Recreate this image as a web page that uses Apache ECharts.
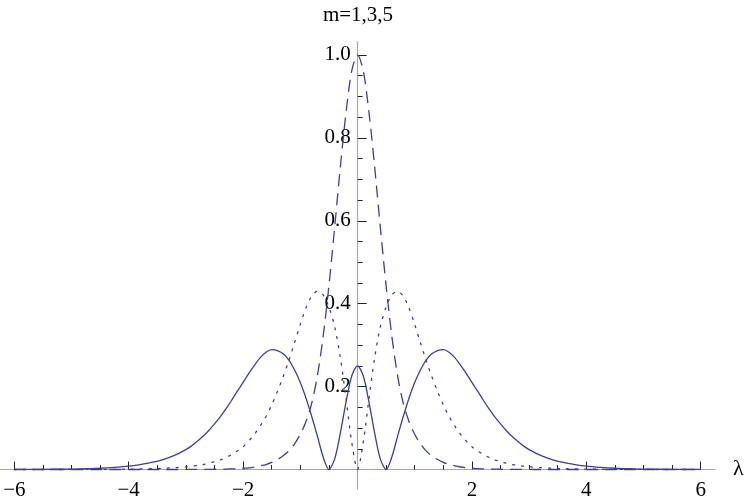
<!DOCTYPE html>
<html>
<head>
<meta charset="utf-8">
<script src="https://cdn.jsdelivr.net/npm/echarts@6/dist/echarts.min.js"></script>
<style>
  html, body { margin: 0; padding: 0; background: #fff; }
  #chart { width: 747px; height: 503px; }
</style>
</head>
<body>
<div id="chart"></div>
<script>
// lambda grid (-6 .. 6)
const lambda = [-6,-5.5,-5,-4.75,-4.5,-4.25,-4,-3.8,-3.6,-3.4,-3.2,-3,-2.9,-2.8,-2.7,-2.6,-2.5,-2.4,-2.3,-2.2,-2.1,-2,-1.9,-1.8,-1.7,-1.6,-1.5,-1.4,-1.3,-1.2,-1.1,-1,-0.9,-0.8,-0.7,-0.6,-0.5,-0.4,-0.3,-0.2,-0.1,
  0,
  0.1,0.2,0.3,0.4,0.5,0.6,0.7,0.8,0.9,1,1.1,1.2,1.3,1.4,1.5,1.6,1.7,1.8,1.9,2,2.1,2.2,2.3,2.4,2.5,2.6,2.7,2.8,2.9,3,3.2,3.4,3.6,3.8,4,4.25,4.5,4.75,5,5.5,6];

// dashed curve (single peak 1.0)
const dashedVals = [0,0,0,0,0,0,0,0,0,0,0,.0001,.0001,.0002,.0003,.0004,.0006,.0008,.001,.0015,.002,.003,.004,.006,.009,.012,.017,.024,.033,.045,.062,.085,.116,.160,.227,.322,.443,.583,.730,.862,.962,
  1.0,
  .962,.862,.730,.583,.443,.322,.227,.160,.116,.085,.062,.045,.033,.024,.017,.012,.009,.006,.004,.003,.002,.0015,.001,.0008,.0006,.0004,.0003,.0002,.0001,.0001,0,0,0,0,0,0,0,0,0,0,0];

// dotted curve (two peaks ~0.43)
const dottedVals = [0,0,.0001,.0002,.0003,.0005,.0009,.0013,.002,.003,.0045,.0065,.008,.010,.012,.015,.019,.023,.029,.036,.045,.055,.069,.085,.105,.128,.156,.188,.224,.263,.306,.350,.390,.418,.430,.421,.392,.345,.270,.170,.065,
  0,
  .065,.170,.270,.345,.392,.421,.430,.418,.390,.350,.306,.263,.224,.188,.156,.128,.105,.085,.069,.055,.045,.036,.029,.023,.019,.015,.012,.010,.008,.0065,.0045,.003,.002,.0013,.0009,.0005,.0003,.0002,.0001,0,0];

// solid curve (three peaks)
const solidVals = [.0001,.0004,.001,.002,.003,.005,.008,.012,.017,.024,.034,.048,.057,.068,.080,.094,.110,.127,.146,.167,.189,.210,.232,.252,.270,.283,.289,.287,.279,.264,.240,.210,.172,.128,.080,.030,0,.025,.088,.163,.226,
  .250,
  .226,.163,.088,.025,0,.030,.080,.128,.172,.210,.240,.264,.279,.287,.289,.283,.270,.252,.232,.210,.189,.167,.146,.127,.110,.094,.080,.068,.057,.048,.034,.024,.017,.012,.008,.005,.003,.002,.001,.0004,.0001];

// ticks
const xMajorTicks = [-6, -4, -2, 2, 4, 6];
const xMinorTicks = [-5.5,-5,-4.5,-3.5,-3,-2.5,-1.5,-1,-0.5,0.5,1,1.5,2.5,3,3.5,4.5,5,5.5];
const yMajorTicks = [0.2, 0.4, 0.6, 0.8, 1.0];
const yMinorTicks = [0.05,0.1,0.15,0.25,0.3,0.35,0.45,0.5,0.55,0.65,0.7,0.75,0.85,0.9,0.95];

const titleText = 'm=1,3,5';
const xName = 'λ';

const chart = echarts.init(document.getElementById('chart'));

const curveColor = '#3f3d99';
const axisGray = '#a8a8a8';
const tickColor = '#222';
const serifFont = "'Liberation Serif', 'DejaVu Serif', serif";
const xMin = -6.25, xMax = 6.25, yMax = 1.032, yMinVert = -0.047;

function pairs(vals) {
  return lambda.map((x, i) => [x, vals[i]]);
}

function hiddenAxis(extra) {
  return Object.assign({
    type: 'value',
    show: false,
    splitLine: { show: false }
  }, extra);
}

const option = {
  animation: false,
  graphic: [{
    type: 'text',
    x: 358,
    y: 15,
    style: {
      text: titleText,
      font: '21px ' + serifFont,
      fill: '#000',
      align: 'center',
      verticalAlign: 'middle'
    }
  }],
  grid: [
    // plot area: x axis sits on its bottom edge (y = 0)
    { left: 0, right: 32, top: 41.7, bottom: 33.5, outerBoundsMode: 'none' },
    // vertical axis placed at x = 0, reaching a little below y = 0
    { left: 357.7, width: 200, top: 41.7, bottom: 14, outerBoundsMode: 'none' }
  ],
  xAxis: [
    {
      type: 'value',
      gridIndex: 0,
      min: xMin,
      max: xMax,
      position: 'bottom',
      name: xName,
      nameLocation: 'end',
      nameGap: 18,
      nameTextStyle: { fontFamily: serifFont, fontSize: 22, color: '#000' },
      axisLine: { show: true, onZero: false, lineStyle: { color: axisGray, width: 1.2 } },
      axisTick: { show: true, inside: true, length: 8, customValues: xMajorTicks, lineStyle: { color: tickColor, width: 1 } },
      axisLabel: {
        show: true,
        customValues: xMajorTicks,
        margin: 10,
        fontFamily: serifFont,
        fontSize: 21,
        color: '#000',
        formatter: v => (v < 0 ? '\u2212' + Math.abs(v) : String(v))
      },
      splitLine: { show: false }
    },
    {
      type: 'value',
      gridIndex: 0,
      min: xMin,
      max: xMax,
      position: 'bottom',
      axisLine: { show: false, onZero: false },
      axisTick: { show: true, inside: true, length: 4.5, customValues: xMinorTicks, lineStyle: { color: tickColor, width: 1 } },
      axisLabel: { show: false },
      splitLine: { show: false }
    },
    hiddenAxis({ gridIndex: 1, min: 0, max: 1 })
  ],
  yAxis: [
    hiddenAxis({ gridIndex: 0, min: 0, max: yMax }),
    {
      type: 'value',
      gridIndex: 1,
      min: yMinVert,
      max: yMax,
      position: 'left',
      axisLine: { show: true, onZero: false, lineStyle: { color: axisGray, width: 1.2 } },
      axisTick: { show: true, inside: true, length: 9, customValues: yMajorTicks, lineStyle: { color: tickColor, width: 1 } },
      axisLabel: {
        show: true,
        customValues: yMajorTicks,
        margin: 7,
        fontFamily: serifFont,
        fontSize: 21,
        color: '#000',
        formatter: v => v.toFixed(1)
      },
      splitLine: { show: false }
    },
    {
      type: 'value',
      gridIndex: 1,
      min: yMinVert,
      max: yMax,
      position: 'left',
      axisLine: { show: false, onZero: false },
      axisTick: { show: true, inside: true, length: 5, customValues: yMinorTicks, lineStyle: { color: tickColor, width: 1 } },
      axisLabel: { show: false },
      splitLine: { show: false }
    }
  ],
  series: [
    {
      name: 'dashed',
      type: 'line',
      xAxisIndex: 0,
      yAxisIndex: 0,
      data: pairs(dashedVals),
      smooth: 0.3,
      clip: false,
      showSymbol: false,
      lineStyle: { color: curveColor, width: 1.3, type: [12, 7] }
    },
    {
      name: 'dotted',
      type: 'line',
      xAxisIndex: 0,
      yAxisIndex: 0,
      data: pairs(dottedVals),
      smooth: 0.3,
      clip: false,
      showSymbol: false,
      lineStyle: { color: curveColor, width: 1.3, type: [2, 7], cap: 'round' }
    },
    {
      name: 'solid',
      type: 'line',
      xAxisIndex: 0,
      yAxisIndex: 0,
      data: pairs(solidVals),
      smooth: 0.3,
      clip: false,
      showSymbol: false,
      lineStyle: { color: curveColor, width: 1.3 }
    }
  ]
};

chart.setOption(option);
</script>
</body>
</html>
